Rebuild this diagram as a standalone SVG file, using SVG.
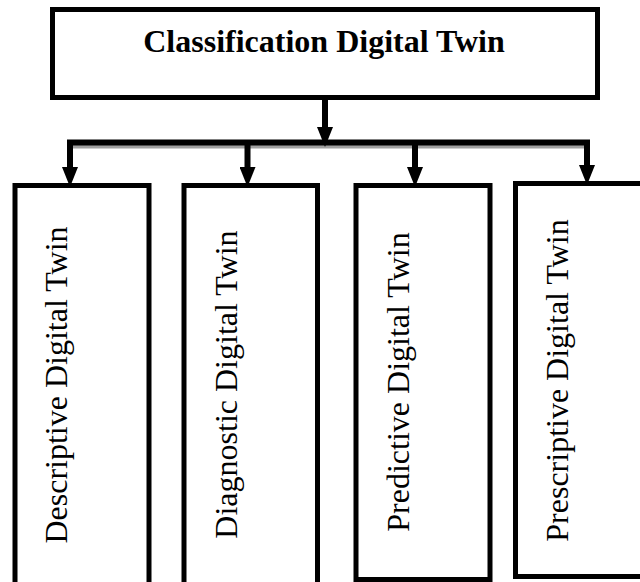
<svg xmlns="http://www.w3.org/2000/svg" width="640" height="582" viewBox="0 0 640 582">
  <style>
    .box { fill: #ffffff; stroke: #000000; stroke-width: 5; }
    .title { font-family: "Liberation Serif", "Times New Roman", serif; font-size: 32px; font-weight: bold; fill: #000; text-anchor: middle; }
    .label { font-family: "Liberation Serif", "Times New Roman", serif; font-size: 32px; fill: #000; text-anchor: middle; }
    .conn { stroke: #000; stroke-width: 6; fill: none; }
    .shadow { stroke: #a0a0a0; stroke-width: 4; fill: none; }
  </style>
  <defs>
    <marker id="head" viewBox="0 -8 20 16" refX="0" refY="0" markerWidth="20" markerHeight="16" markerUnits="userSpaceOnUse" orient="auto">
      <path d="M0,-8 L20,0 L0,8 Z" fill="#000"/>
    </marker>
  </defs>

  <rect width="640" height="582" fill="#ffffff"/>

  <g id="connectors">
    <line class="shadow" x1="70" y1="146.5" x2="588" y2="146.5"/>
    <line class="conn" x1="325" y1="100" x2="325" y2="127" marker-end="url(#head)"/>
    <polyline class="conn" points="70,168 70,142.5 587,142.5 587,165" stroke-linejoin="miter"/>
    <line class="conn" x1="70" y1="142" x2="70" y2="167" marker-end="url(#head)"/>
    <line class="conn" x1="247.5" y1="142" x2="247.5" y2="167" marker-end="url(#head)"/>
    <line class="conn" x1="415" y1="142" x2="415" y2="167" marker-end="url(#head)"/>
    <line class="conn" x1="587" y1="142" x2="587" y2="165" marker-end="url(#head)"/>
  </g>

  <g id="classification">
    <rect class="box" x="52.5" y="9.5" width="545" height="88"/>
    <text class="title" x="324" y="52">Classification Digital Twin</text>
  </g>

  <g id="descriptive">
    <rect class="box" x="15" y="185.5" width="134" height="410"/>
    <text class="label" transform="translate(66.5,385) rotate(-90)">Descriptive Digital Twin</text>
  </g>

  <g id="diagnostic">
    <rect class="box" x="184" y="185.5" width="133.5" height="410"/>
    <text class="label" transform="translate(237,384.5) rotate(-90)">Diagnostic Digital Twin</text>
  </g>

  <g id="predictive">
    <rect class="box" x="356" y="185.5" width="134" height="394"/>
    <text class="label" transform="translate(409,382) rotate(-90)">Predictive Digital Twin</text>
  </g>

  <g id="prescriptive">
    <rect class="box" x="515.5" y="183.5" width="140" height="393"/>
    <text class="label" transform="translate(567.5,380.5) rotate(-90)">Prescriptive Digital Twin</text>
  </g>
</svg>
